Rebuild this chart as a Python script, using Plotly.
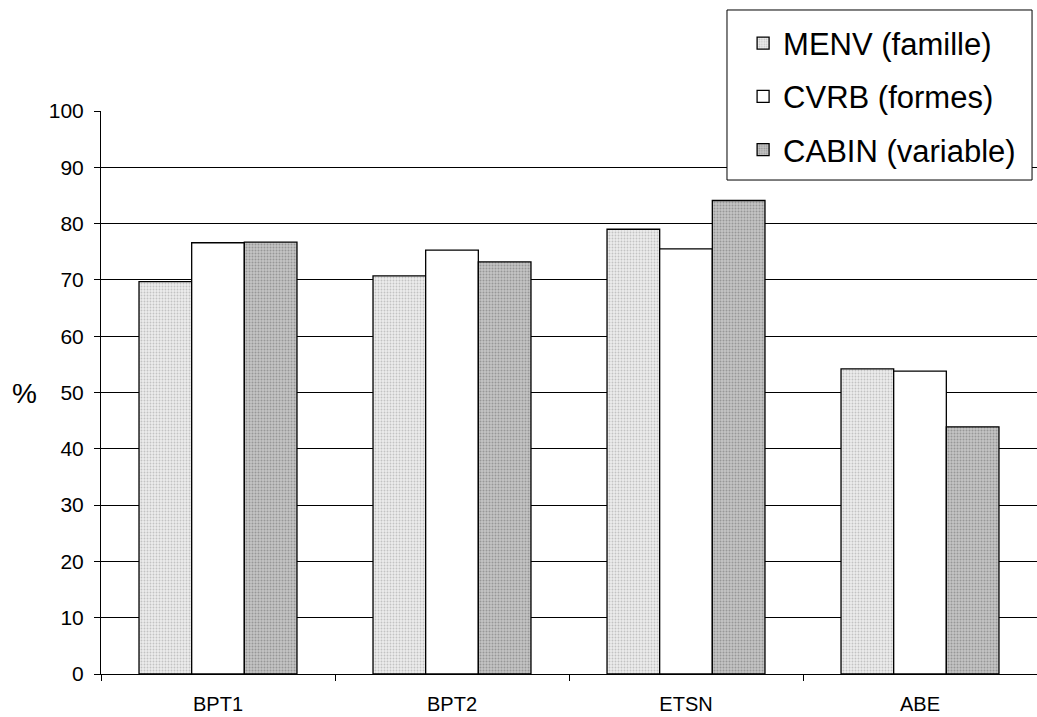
import plotly.graph_objects as go

categories = ["BPT1", "BPT2", "ETSN", "ABE"]
menv = [69.7, 70.7, 79.0, 54.2]
cvrb = [76.6, 75.3, 75.5, 53.8]
cabin = [76.7, 73.2, 84.1, 43.9]
y_ticks = [0, 10, 20, 30, 40, 50, 60, 70, 80, 90, 100]

series = [
    ("MENV (famille)", menv, dict(fillmode="overlay", bgcolor="#ececec", fgcolor="#9a9a9a", shape=".", size=3, solidity=0.3)),
    ("CVRB (formes)", cvrb, None),
    ("CABIN (variable)", cabin, dict(fillmode="overlay", bgcolor="#c4c4c4", fgcolor="#6a6a6a", shape=".", size=3, solidity=0.35)),
]

fig = go.Figure()
for i, (name, vals, pat) in enumerate(series):
    marker = dict(color="white", line=dict(color="black", width=1.3))
    if pat is not None:
        marker["pattern"] = pat
    fig.add_trace(go.Bar(
        x=categories, y=vals, name=name, marker=marker,
        legendgroup=f"g{i}",
    ))

# legend frame, drawn as a white box that hides the gridlines behind it
fig.add_shape(
    type="rect", xref="paper", yref="paper",
    x0=0.6688, x1=0.9947, y0=0.8774, y1=1.1794,
    line=dict(color="black", width=1), fillcolor="white", layer="above",
)

fig.add_annotation(
    text="%", xref="paper", yref="paper", x=-0.0812, y=0.499,
    showarrow=False, font=dict(size=28), xanchor="center", yanchor="middle",
)

fig.update_layout(
    width=1037, height=717,
    margin=dict(l=101, r=0, t=111, b=43),
    paper_bgcolor="white", plot_bgcolor="white",
    barmode="group", bargap=0.325, bargroupgap=0,
    font=dict(family="Liberation Sans, Arial, sans-serif", color="black"),
    legend=dict(
        x=0.686, y=1.168, xanchor="left", yanchor="top",
        bgcolor="rgba(0,0,0,0)", borderwidth=0,
        font=dict(size=31), tracegroupgap=10,
    ),
    xaxis=dict(
        showline=True, linecolor="black", linewidth=1,
        ticks="outside", tickson="boundaries", ticklen=6, tickcolor="black",
        tickfont=dict(size=20), showgrid=False, ticklabelstandoff=12,
    ),
    yaxis=dict(
        range=[0, 100], tickvals=y_ticks,
        showline=True, linecolor="black", linewidth=1,
        ticks="outside", ticklen=6, tickcolor="black",
        tickfont=dict(size=21), ticklabelstandoff=6,
        showgrid=True, gridcolor="black", gridwidth=1,
        zeroline=False,
    ),
)

fig.write_html("out.html")
